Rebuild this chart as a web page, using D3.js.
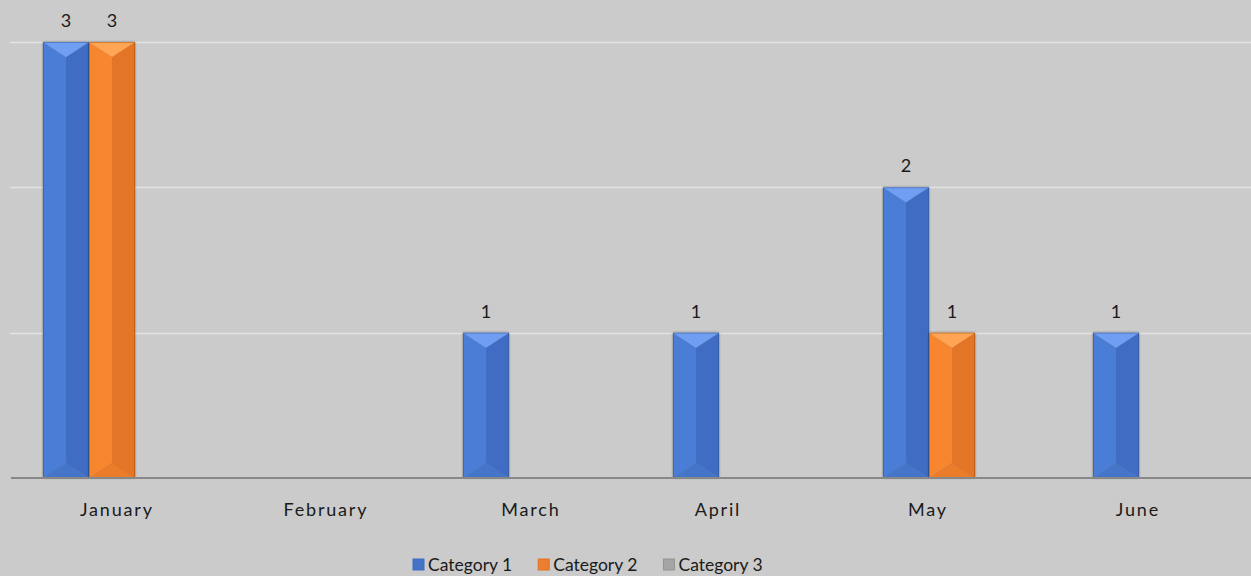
<!DOCTYPE html>
<html>
<head>
<meta charset="utf-8">
<script src="https://cdn.jsdelivr.net/npm/d3@7"></script>
<style>
  html, body { margin: 0; padding: 0; background: #cbcbcb; }
  svg { display: block; }
  text { font-family: "Lato", "Open Sans", sans-serif; fill: #1a1a1a; }
</style>
</head>
<body>
<svg id="chart" width="1251" height="576"></svg>
<script>
const months = ["January", "February", "March", "April", "May", "June"];
const seriesNames = ["Category 1", "Category 2", "Category 3"];
const cat1 = [3, 0, 1, 1, 2, 1];
const cat2 = [3, 0, 0, 0, 1, 0];
const cat3 = [0, 0, 0, 0, 0, 0];
const yTicks = [0, 1, 2, 3];
const seriesValues = [cat1, cat2, cat3];

const palette = [
  { main: "#4a7dd6", top: "#6f9ef2", right: "#3f6dc3", bottom: "#4574c9", edge: "#2e4f8c", legend: "#4472c4" },
  { main: "#f7862f", top: "#ffa552", right: "#e27427", bottom: "#ea7b2b", edge: "#9a4d16", legend: "#ed7d31" },
  { main: "#a5a5a5", top: "#c4c4c4", right: "#939393", bottom: "#9c9c9c", edge: "#6b6b6b", legend: "#a5a5a5" }
];
// horizontal nudge of each category label, as rendered in the reference
const labelNudge = [1, 0, -5, -28, -28, -28];

const svg = d3.select("#chart");
const W = 1251, H = 576;
svg.append("rect").attr("width", W).attr("height", H).attr("fill", "#cbcbcb");

const plotLeft = 10, bandW = 210;
const x0 = d3.scaleBand().domain(months).range([plotLeft, plotLeft + bandW * months.length]).paddingInner(0).paddingOuter(0);
const x1 = d3.scaleBand().domain(seriesNames).range([33, 33 + 46 * 3]).padding(0);
const y = d3.scaleLinear().domain([0, 3]).range([478, 42]);

// gridlines
svg.append("g").selectAll("line").data(yTicks.filter(d => d > 0)).join("line")
  .attr("x1", plotLeft).attr("x2", W)
  .attr("y1", d => Math.round(y(d)) + 0.5).attr("y2", d => Math.round(y(d)) + 0.5)
  .attr("stroke", "#e2e2e2").attr("stroke-width", 1.5);

// bars
const bars = [];
months.forEach((m, i) => {
  seriesNames.forEach((s, j) => {
    const v = seriesValues[j][i];
    if (v > 0) bars.push({ m, s, j, v });
  });
});

const defs = svg.append("defs");
const filt = defs.append("filter").attr("id", "shadow").attr("x", "-20%").attr("y", "-10%").attr("width", "140%").attr("height", "120%");
filt.append("feGaussianBlur").attr("in", "SourceAlpha").attr("stdDeviation", 1.2).attr("result", "b");
filt.append("feComponentTransfer").attr("in", "b").attr("result", "s")
  .append("feFuncA").attr("type", "linear").attr("slope", 0.5);
const mg = filt.append("feMerge");
mg.append("feMergeNode").attr("in", "s");
mg.append("feMergeNode").attr("in", "SourceGraphic");

const gBars = svg.append("g");
bars.forEach(b => {
  const xa = x0(b.m) + x1(b.s);
  const xb = xa + x1.bandwidth();
  const xc = (xa + xb) / 2;
  const yt = y(b.v), yb = y(0);
  const h = 15;
  const c = palette[b.j];
  const g = gBars.append("g").attr("filter", "url(#shadow)");
  const poly = (pts, fill) => g.append("polygon").attr("points", pts.map(p => p.join(",")).join(" ")).attr("fill", fill);
  poly([[xa, yt], [xc, yt + h], [xc, yb - h], [xa, yb]], c.main);
  poly([[xb, yt], [xc, yt + h], [xc, yb - h], [xb, yb]], c.right);
  poly([[xa, yt], [xb, yt], [xc, yt + h]], c.top);
  poly([[xa, yb], [xb, yb], [xc, yb - h]], c.bottom);
  g.append("rect").attr("x", xa + 0.5).attr("y", yt + 0.5).attr("width", xb - xa - 1).attr("height", yb - yt - 1)
    .attr("fill", "none").attr("stroke", c.edge).attr("stroke-opacity", 0.45).attr("stroke-width", 1);
  svg.append("text").attr("x", xc).attr("y", yt - 15).attr("text-anchor", "middle")
    .attr("font-size", 18).text(b.v);
});

// axis line
svg.append("line").attr("x1", plotLeft + 1).attr("x2", W).attr("y1", 478).attr("y2", 478)
  .attr("stroke", "#888888").attr("stroke-width", 2);

// category labels
const xAxis = d3.axisBottom(x0).tickSize(0).tickPadding(0);
const gx = svg.append("g").attr("transform", "translate(0,478)").call(xAxis);
gx.select(".domain").remove();
gx.selectAll("text").attr("y", 38).attr("dy", 0).attr("font-size", 18)
  .attr("fill", "#1a1a1a").style("font-family", "Lato, 'Open Sans', sans-serif")
  .style("letter-spacing", "1.8px")
  .attr("dx", (d, i) => 0.9 + labelNudge[i]);

// legend
const lg = svg.append("g");
let lx = 0;
seriesNames.forEach((s, j) => {
  const it = lg.append("g");
  it.append("rect").attr("x", 0).attr("y", -6).attr("width", 11).attr("height", 11)
    .attr("fill", palette[j].legend).attr("stroke", palette[j].right).attr("stroke-width", 1);
  const t = it.append("text").attr("x", 15).attr("y", 6).attr("font-size", 17.5).text(s);
  const w = 15 + t.node().getComputedTextLength();
  it.attr("transform", `translate(${lx},0)`);
  lx += w + 26;
});
const totalW = lx - 26;
lg.attr("transform", `translate(${Math.round(587.5 - totalW / 2)},565)`);
</script>
</body>
</html>
